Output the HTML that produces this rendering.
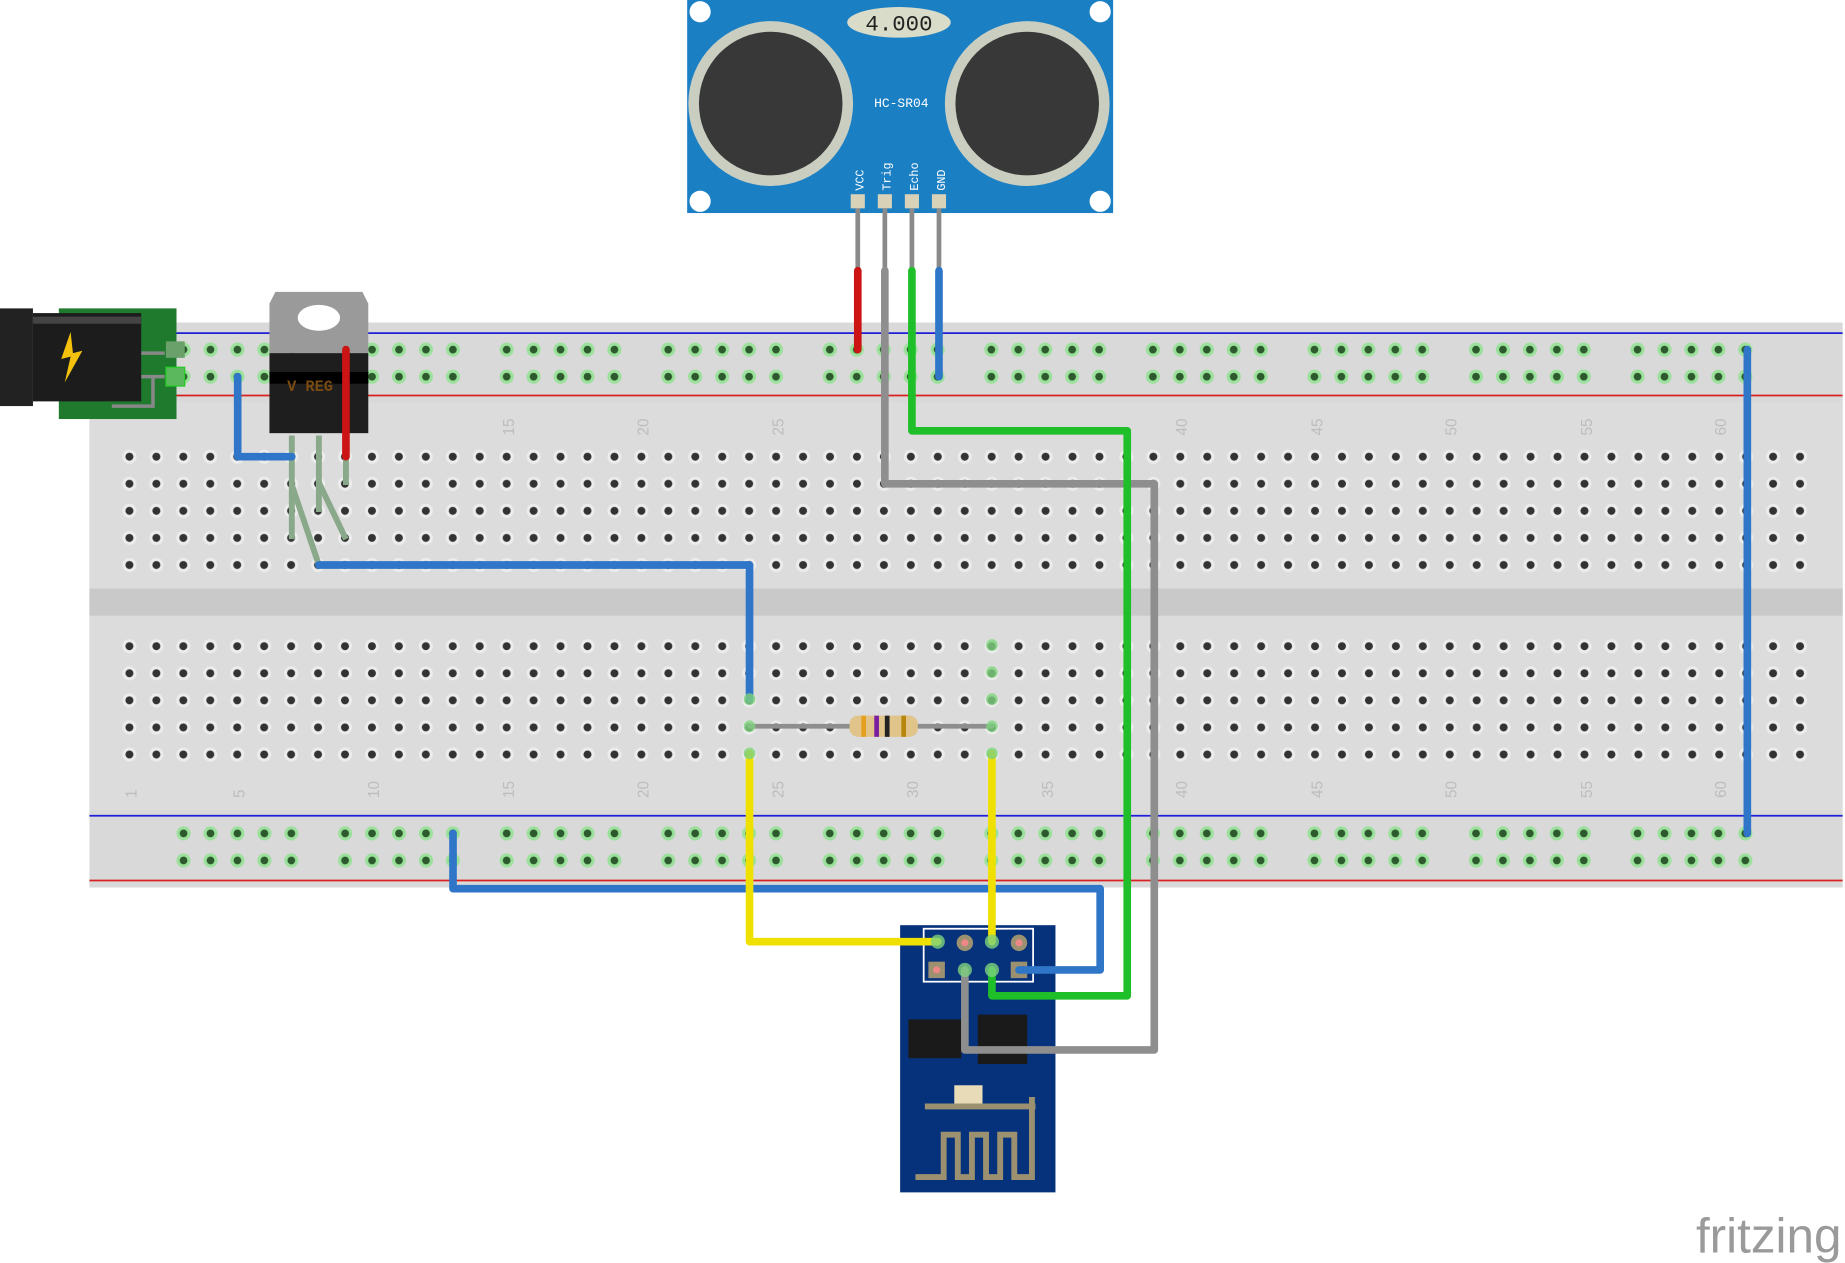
<!DOCTYPE html>
<html><head><meta charset="utf-8"><style>
html,body{margin:0;padding:0;background:#fff;overflow:hidden}
svg{display:block}
.mono{font-family:"Liberation Mono",monospace}
</style></head><body>
<svg width="1845" height="1263" viewBox="0 0 1568 1073" preserveAspectRatio="none" xmlns="http://www.w3.org/2000/svg">
<defs>
<pattern id="holes" x="99" y="377" width="22.9" height="23" patternUnits="userSpaceOnUse">
<circle cx="11" cy="11" r="6" fill="#ececec"/><circle cx="11" cy="11" r="3.4" fill="#333"/>
</pattern>
<pattern id="rail" x="145" y="286" width="137.3" height="23" patternUnits="userSpaceOnUse">
<g fill="#9be09b"><circle cx="11" cy="11" r="6"/><circle cx="33.9" cy="11" r="6"/><circle cx="56.8" cy="11" r="6"/><circle cx="79.7" cy="11" r="6"/><circle cx="102.6" cy="11" r="6"/></g>
<g fill="#2d5a2d"><circle cx="11" cy="11" r="3.3"/><circle cx="33.9" cy="11" r="3.3"/><circle cx="56.8" cy="11" r="3.3"/><circle cx="79.7" cy="11" r="3.3"/><circle cx="102.6" cy="11" r="3.3"/></g>
</pattern>
<pattern id="rail2" x="145" y="697" width="137.3" height="23" patternUnits="userSpaceOnUse">
<g fill="#9be09b"><circle cx="11" cy="11" r="6"/><circle cx="33.9" cy="11" r="6"/><circle cx="56.8" cy="11" r="6"/><circle cx="79.7" cy="11" r="6"/><circle cx="102.6" cy="11" r="6"/></g>
<g fill="#2d5a2d"><circle cx="11" cy="11" r="3.3"/><circle cx="33.9" cy="11" r="3.3"/><circle cx="56.8" cy="11" r="3.3"/><circle cx="79.7" cy="11" r="3.3"/><circle cx="102.6" cy="11" r="3.3"/></g>
</pattern>
</defs>
<rect width="1568" height="1073" fill="#fff"/>
<rect x="76" y="274" width="1490" height="480" fill="#d9d9d9"/>
<rect x="76" y="342" width="1490" height="346" fill="#dcdcdc"/>
<rect x="76" y="500" width="1490" height="23" fill="#c9c9c9"/>
<line x1="150" y1="283" x2="1566" y2="283" stroke="#1f1fd8" stroke-width="1.5"/>
<line x1="150" y1="336" x2="1566" y2="336" stroke="#d82020" stroke-width="1.5"/>
<line x1="76" y1="693" x2="1566" y2="693" stroke="#1f1fd8" stroke-width="1.5"/>
<line x1="76" y1="748" x2="1566" y2="748" stroke="#d82020" stroke-width="1.5"/>
<rect x="99" y="377" width="1443" height="115" fill="url(#holes)"/>
<rect x="99" y="537" width="1443" height="115" fill="url(#holes)"/>
<rect x="145" y="286" width="1353" height="46" fill="url(#rail)"/>
<rect x="145" y="697" width="1353" height="46" fill="url(#rail2)"/>
<g fill="#bdbdbd" style="font-family:'Liberation Sans',sans-serif;font-size:13px">
<text transform="translate(437,370) rotate(-90)">15</text><text transform="translate(551,370) rotate(-90)">20</text><text transform="translate(666,370) rotate(-90)">25</text>
<text transform="translate(1009,370) rotate(-90)">40</text><text transform="translate(1124,370) rotate(-90)">45</text><text transform="translate(1238,370) rotate(-90)">50</text><text transform="translate(1353,370) rotate(-90)">55</text><text transform="translate(1467,370) rotate(-90)">60</text>
<text transform="translate(116,678) rotate(-90)">1</text><text transform="translate(208,678) rotate(-90)">5</text><text transform="translate(322,678) rotate(-90)">10</text><text transform="translate(437,678) rotate(-90)">15</text><text transform="translate(551,678) rotate(-90)">20</text><text transform="translate(666,678) rotate(-90)">25</text><text transform="translate(780,678) rotate(-90)">30</text><text transform="translate(895,678) rotate(-90)">35</text><text transform="translate(1009,678) rotate(-90)">40</text><text transform="translate(1124,678) rotate(-90)">45</text><text transform="translate(1238,678) rotate(-90)">50</text><text transform="translate(1353,678) rotate(-90)">55</text><text transform="translate(1467,678) rotate(-90)">60</text>
</g>
<rect x="50" y="262" width="100" height="94" fill="#1f7a2e"/>
<path d="M118 300 H140 M118 320 H140 M95 345 H130 V320" stroke="#888" stroke-width="3" fill="none"/>
<rect x="141" y="290" width="16" height="14" fill="#6aa06a"/>
<rect x="141" y="312" width="16" height="16" fill="#5cb85c" stroke="#2c2" stroke-width="1"/>
<rect x="0" y="262" width="28" height="83" fill="#222"/>
<rect x="28" y="266" width="92" height="75" fill="#1c1c1c"/>
<rect x="28" y="269" width="92" height="6" fill="#444"/>
<polygon points="60,282 52,305 60,303 55,325 70,298 62,300" fill="#f4c20d"/>
<path d="M234 248 H308 L313 258 V300 H229 V258 Z" fill="#9a9a9a"/>
<ellipse cx="271" cy="270" rx="18" ry="11" fill="#fff"/>
<rect x="229" y="300" width="84" height="68" fill="#1e1e1e"/>
<rect x="229" y="316" width="84" height="10" fill="#000"/>
<text class="mono" x="244" y="332" font-size="13" font-weight="bold" fill="#7a4a10">V REG</text>
<g stroke="#8aa88a" stroke-width="5"><line x1="248" y1="370" x2="248" y2="458"/><line x1="271" y1="370" x2="271" y2="435"/><line x1="294" y1="370" x2="294" y2="412"/><line x1="271" y1="410" x2="294" y2="458"/><line x1="248" y1="412" x2="271" y2="480"/></g>
<rect x="584" y="0" width="362" height="181" fill="#1b7fc4"/>
<circle cx="655" cy="88" r="70" fill="#c9cec0"/><circle cx="655" cy="88" r="61" fill="#383838"/>
<circle cx="873" cy="88" r="70" fill="#c9cec0"/><circle cx="873" cy="88" r="61" fill="#383838"/>
<circle cx="595" cy="10" r="9" fill="#fff"/><circle cx="935" cy="10" r="9" fill="#fff"/><circle cx="595" cy="171" r="9" fill="#fff"/><circle cx="935" cy="171" r="9" fill="#fff"/>
<ellipse cx="764" cy="19" rx="44" ry="13" fill="#d9dcc8"/>
<text class="mono" x="764" y="26" font-size="19" text-anchor="middle" fill="#222">4.000</text>
<text class="mono" x="766" y="91" font-size="11" text-anchor="middle" fill="#fff">HC-SR04</text>
<g class="mono" font-size="10" fill="#fff"><text transform="translate(734,162) rotate(-90)">VCC</text><text transform="translate(757,162) rotate(-90)">Trig</text><text transform="translate(780,162) rotate(-90)">Echo</text><text transform="translate(803,162) rotate(-90)">GND</text></g>
<g fill="#d8d2b8"><rect x="723" y="165" width="12" height="12"/><rect x="746" y="165" width="12" height="12"/><rect x="769" y="165" width="12" height="12"/><rect x="792" y="165" width="12" height="12"/></g>
<g stroke="#8a8a8a" stroke-width="4"><line x1="729" y1="177" x2="729" y2="230"/><line x1="752" y1="177" x2="752" y2="230"/><line x1="775" y1="177" x2="775" y2="230"/><line x1="798" y1="177" x2="798" y2="230"/></g>
<rect x="765" y="786" width="132" height="227" fill="#06327c"/>
<rect x="785" y="789" width="93" height="45" fill="none" stroke="#fff" stroke-width="1.5"/>
<g fill="#9b9170"><circle cx="820" cy="801" r="7"/><circle cx="866" cy="801" r="7"/><rect x="789" y="817" width="14" height="14"/><rect x="859" y="817" width="14" height="14"/></g>
<g fill="#e88"><circle cx="820" cy="801" r="3"/><circle cx="866" cy="801" r="3"/><circle cx="796" cy="824" r="3"/></g>
<rect x="772" y="866" width="45" height="33" fill="#1a1a1a"/>
<rect x="831" y="862" width="42" height="42" fill="#1a1a1a"/>
<rect x="811" y="922" width="24" height="18" fill="#e8dcb8"/>
<path d="M786 940 H880 M877 932 V1000 H862 V964 H850 V1000 H838 V964 H826 V1000 H814 V964 H802 V1000 H778" stroke="#9b9170" stroke-width="5" fill="none"/>
<g fill="none" stroke-width="6.5" stroke-linejoin="round" stroke-linecap="round">
<polyline points="202,320 202,388 248,388" stroke="#2f76c8"/>
<polyline points="294,297 294,388" stroke="#cc1414"/>
<polyline points="271,480 637,480 637,594" stroke="#2f76c8"/>
<polyline points="729,230 729,297" stroke="#cc1414"/>
<polyline points="752,230 752,411 981,411 981,892 820,892 820,824" stroke="#8e8e8e"/>
<polyline points="775,230 775,366 958,366 958,846 843,846 843,824" stroke="#1fbf2a"/>
<polyline points="798,230 798,320" stroke="#2f76c8"/>
<polyline points="1485,297 1485,708" stroke="#2f76c8"/>
<polyline points="385,708 385,755 935,755 935,824 866,824" stroke="#2f76c8"/>
<polyline points="637,640 637,800 797,800" stroke="#f0e000"/>
<polyline points="843,640 843,800" stroke="#f0e000"/>
<polyline points="637,617 843,617" stroke="#8e8e8e" stroke-width="4"/>
</g>
<rect x="722" y="608" width="58" height="18" rx="7" fill="#e0c48a"/>
<rect x="732" y="608" width="4" height="18" fill="#e6a020"/><rect x="743" y="608" width="4" height="18" fill="#7b1fa2"/><rect x="752" y="608" width="4" height="18" fill="#222"/><rect x="766" y="608" width="4" height="18" fill="#b8860b"/>
<g fill="#7ed27e" opacity="0.8"><circle cx="797" cy="800" r="6"/><circle cx="843" cy="800" r="6"/><circle cx="820" cy="824" r="6"/><circle cx="843" cy="824" r="6"/><circle cx="637" cy="594" r="5"/><circle cx="637" cy="640" r="5"/><circle cx="843" cy="640" r="5"/><circle cx="843" cy="548" r="5"/><circle cx="843" cy="571" r="5"/><circle cx="843" cy="594" r="5"/><circle cx="637" cy="617" r="5"/><circle cx="843" cy="617" r="5"/></g>
<text x="1565" y="1064" style="font-family:'Liberation Sans',sans-serif;font-size:42px" fill="#9a9a9a" text-anchor="end">fritzing</text>
</svg>
</body></html>
